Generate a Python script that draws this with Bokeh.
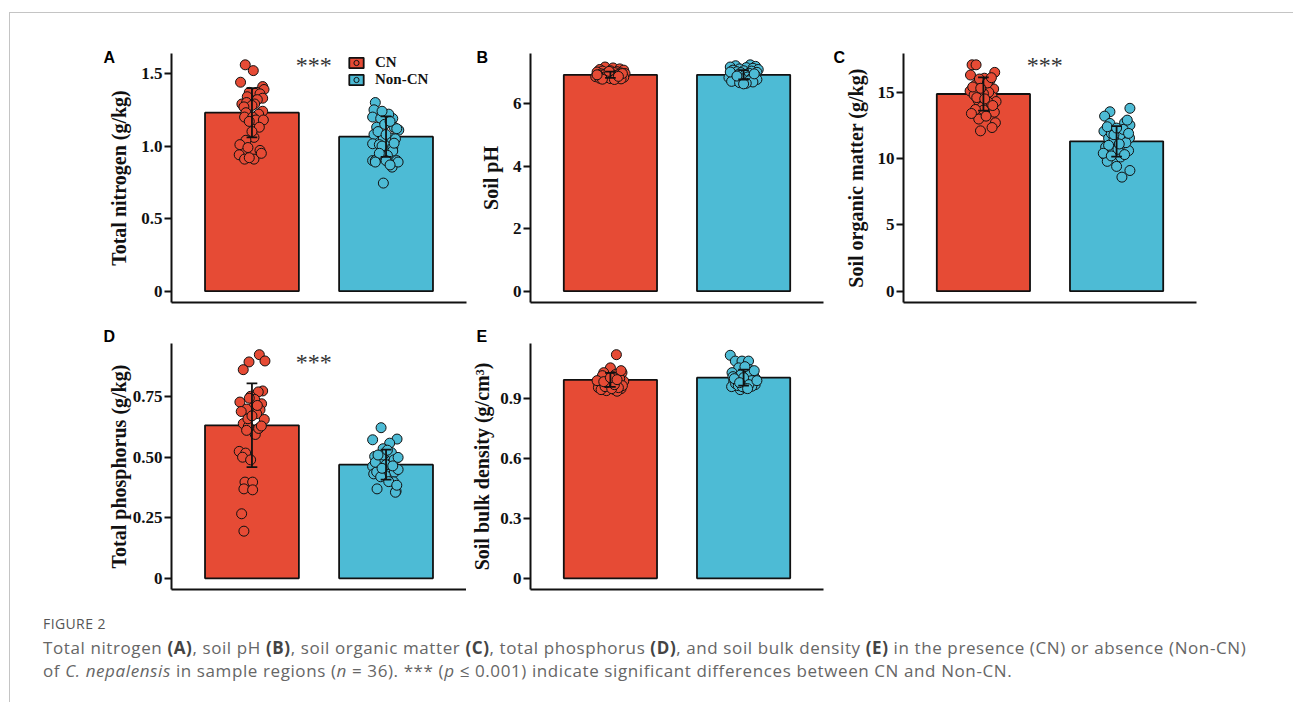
from bokeh.plotting import figure
from bokeh.models import Range1d, FixedTicker, Label, Legend, LegendItem, Div, Spacer
from bokeh.layouts import row, column
from bokeh.embed import file_html
from bokeh.resources import INLINE

RED = "#E64B35"
BLUE = "#4DBBD5"
groups = ["CN", "Non-CN"]

# ---------------- data ----------------
# A: total nitrogen (g/kg)
tn_mean = [1.23, 1.065]
tn_sd = [0.17, 0.14]
tn_cn = [1.56, 1.52, 1.44, 1.41, 1.39, 1.37, 1.37, 1.36, 1.34, 1.33, 1.32, 1.29,
         1.30, 1.29, 1.28, 1.27, 1.24, 1.23, 1.22, 1.20, 1.20, 1.18, 1.18, 1.17,
         1.13, 1.06, 1.04, 1.01, 0.97, 0.94, 0.99, 0.91, 0.91, 0.92, 0.95, 1.10]
tn_cn_jit = [-0.05, 0.01, -0.085, 0.08, 0.09, -0.02, 0.035, 0.06, -0.035, 0.08, 0.04, -0.075,
             -0.04, 0.02, 0.0, -0.06, 0.08, -0.045, 0.05, -0.055, 0.005, 0.03, 0.085, -0.02,
             0.055, 0.015, -0.045, -0.09, 0.06, -0.095, -0.03, -0.055, 0.015, -0.02, 0.07, 0.0]
tn_non = [1.30, 1.25, 1.20, 1.19, 1.19, 1.13, 1.15, 1.13, 1.11, 1.12, 1.08, 1.055,
          1.055, 1.016, 1.01, 0.99, 0.966, 0.936, 0.90, 0.90, 0.90, 0.90, 0.855, 0.745,
          1.22, 1.24, 1.17, 1.10, 1.05, 1.00, 0.89, 0.87, 0.95, 1.08, 1.02, 0.89]
tn_non_jit = [-0.08, -0.09, -0.1, -0.04, 0.05, -0.07, -0.01, 0.06, 0.095, 0.08, -0.09, -0.02,
              0.04, -0.1, -0.05, 0.05, 0.05, 0.01, -0.1, -0.08, 0.0, 0.08, 0.045, -0.02,
              0.02, -0.03, 0.03, -0.06, 0.07, -0.03, 0.09, 0.03, -0.05, 0.0, 0.06, -0.08]
tn_ticks = [0, 0.5, 1.0, 1.5]
tn_tick_labels = ["0", "0.5", "1.0", "1.5"]

# B: soil pH
ph_mean = [6.93, 6.93]
ph_sd = [0.10, 0.15]
ph_cn = [7.18, 7.15, 7.12, 7.10, 7.08, 7.06, 7.05, 7.03, 7.02, 7.00, 6.99, 6.98,
         6.97, 6.96, 6.95, 6.94, 6.93, 6.92, 6.91, 6.90, 6.89, 6.88, 6.87, 6.86,
         6.85, 6.84, 6.83, 6.82, 6.81, 6.80, 6.79, 6.78, 7.04, 6.97, 6.93, 6.88]
ph_cn_jit = [-0.04, 0.02, 0.07, -0.08, 0.1, 0.0, -0.06, 0.05, -0.1, 0.03, 0.08, -0.03,
             0.11, -0.07, 0.01, 0.06, -0.05, 0.09, -0.09, 0.04, -0.02, 0.07, -0.11, 0.02,
             0.1, -0.04, 0.05, -0.08, 0.0, 0.08, -0.06, 0.03, -0.01, 0.09, -0.1, 0.06]
ph_non = [7.25, 7.22, 7.20, 7.18, 7.16, 7.14, 7.12, 7.10, 7.08, 7.06, 7.05, 7.03,
          7.01, 7.00, 6.98, 6.97, 6.95, 6.93, 6.92, 6.90, 6.88, 6.86, 6.84, 6.82,
          6.80, 6.78, 6.76, 6.74, 6.72, 6.70, 6.68, 6.66, 6.64, 7.02, 6.96, 6.89]
ph_non_jit = [0.05, -0.06, 0.09, -0.1, 0.02, 0.07, -0.03, 0.11, -0.08, 0.0, 0.06, -0.05,
              0.1, -0.02, 0.04, -0.09, 0.08, -0.04, 0.01, 0.09, -0.07, 0.03, -0.11, 0.06,
              -0.01, 0.1, -0.06, 0.04, -0.09, 0.07, -0.03, 0.02, 0.0, -0.1, 0.08, -0.05]
ph_ticks = [0, 2, 4, 6]
ph_tick_labels = ["0", "2", "4", "6"]

# C: soil organic matter (g/kg)
som_mean = [14.87, 11.3]
som_sd = [1.25, 1.15]
som_cn = [17.07, 17.07, 16.3, 16.5, 16.06, 15.6, 15.5, 15.1, 15.25, 15.2, 14.8, 14.67,
          14.3, 14.3, 14.4, 13.9, 13.66, 13.5, 12.98, 13.2, 12.7, 12.34, 12.09, 13.7,
          15.9, 16.0, 15.0, 15.4, 14.9, 14.0, 14.6, 15.7, 13.4, 16.1, 15.3, 14.5]
som_cn_jit = [-0.085, -0.055, -0.097, 0.085, 0.007, -0.055, 0.027, -0.1, 0.077, -0.01, -0.07, 0.065,
              0.095, 0.032, -0.04, -0.01, 0.002, 0.082, -0.035, 0.02, 0.09, 0.065, -0.022, -0.06,
              0.05, -0.03, 0.04, -0.08, 0.0, 0.07, -0.05, 0.03, -0.09, 0.06, -0.02, 0.01]
som_non = [13.79, 13.53, 13.2, 12.65, 12.7, 12.52, 12.06, 12.01, 11.63, 11.56, 11.53, 11.4,
           10.87, 10.92, 10.6, 10.5, 10.3, 10.12, 9.79, 9.41, 9.1, 8.6, 12.2, 11.9,
           11.2, 11.0, 10.7, 10.4, 10.3, 11.8, 12.9, 12.4, 11.1, 10.2, 11.9, 12.3]
som_non_jit = [0.1, -0.05, -0.09, -0.05, 0.06, 0.1, -0.095, -0.025, 0.025, 0.097, -0.06, -0.02,
               -0.082, 0.03, 0.09, -0.03, -0.09, 0.03, -0.07, 0.0, 0.1, 0.04, 0.05, -0.04,
               0.07, -0.06, 0.01, -0.1, 0.06, -0.02, 0.08, -0.07, 0.02, -0.04, 0.09, 0.0]
som_ticks = [0, 5, 10, 15]
som_tick_labels = ["0", "5", "10", "15"]

# D: total phosphorus (g/kg)
tp_mean = [0.633, 0.47]
tp_sd = [0.173, 0.062]
tp_cn = [0.925, 0.895, 0.899, 0.863, 0.775, 0.771, 0.729, 0.753, 0.722, 0.708, 0.70, 0.697,
         0.681, 0.657, 0.64, 0.628, 0.595, 0.612, 0.525, 0.518, 0.501, 0.49, 0.398, 0.398,
         0.37, 0.366, 0.267, 0.195, 0.74, 0.66, 0.62, 0.69, 0.63, 0.672, 0.745, 0.715]
tp_cn_jit = [0.055, -0.022, 0.097, -0.065, 0.08, 0.047, -0.09, -0.01, 0.072, 0.01, -0.04, 0.06,
             0.035, 0.092, -0.065, -0.027, 0.025, -0.04, -0.095, -0.047, -0.07, -0.01, -0.052, 0.005,
             -0.06, 0.005, -0.077, -0.06, 0.02, -0.03, 0.05, -0.08, 0.07, 0.0, -0.02, 0.04]
tp_non = [0.623, 0.573, 0.576, 0.559, 0.536, 0.504, 0.499, 0.499, 0.481, 0.463, 0.463, 0.446,
          0.439, 0.432, 0.425, 0.399, 0.37, 0.36, 0.356, 0.47, 0.48, 0.45, 0.51, 0.52,
          0.44, 0.47, 0.49, 0.42, 0.40, 0.48, 0.50, 0.53, 0.455, 0.465, 0.51, 0.385]
tp_non_jit = [-0.037, -0.1, 0.082, 0.027, -0.022, -0.085, -0.005, 0.082, 0.052, -0.1, -0.037, 0.007,
              0.062, -0.092, -0.005, 0.057, -0.067, 0.075, 0.07, 0.03, -0.05, 0.09, -0.02, 0.04,
              -0.07, 0.0, 0.06, -0.04, 0.02, -0.08, 0.09, 0.01, -0.03, 0.05, -0.06, 0.08]
tp_ticks = [0, 0.25, 0.50, 0.75]
tp_tick_labels = ["0", "0.25", "0.50", "0.75"]

# E: soil bulk density (g/cm3)
bd_mean = [0.994, 1.005]
bd_sd = [0.035, 0.04]
bd_cn = [1.12, 1.054, 1.03, 1.03, 1.02, 1.004, 0.996, 0.979, 0.987, 0.987, 0.97, 0.962,
         0.955, 0.95, 0.945, 0.94, 0.937, 0.945, 1.01, 1.0, 1.0, 0.99, 0.975, 0.965,
         0.96, 0.98, 1.015, 0.955, 0.99, 0.95, 1.04, 0.98, 0.97, 0.985, 1.005, 0.995]
bd_cn_jit = [0.045, 0.0, -0.05, 0.087, 0.037, -0.045, 0.012, -0.092, 0.062, 0.1, -0.062, -0.012,
             -0.09, 0.08, 0.03, -0.03, 0.05, -0.07, 0.02, -0.02, 0.07, -0.08, 0.0, 0.09,
             -0.04, 0.04, -0.06, 0.06, -0.1, 0.01, 0.08, -0.03, 0.03, -0.05, 0.0, 0.05]
bd_non = [1.117, 1.088, 1.088, 1.088, 1.054, 1.046, 1.03, 1.02, 1.009, 0.996, 0.987, 0.979,
          0.97, 0.945, 0.962, 0.954, 0.96, 1.0, 0.99, 1.03, 1.02, 1.0, 0.975, 0.985,
          1.01, 0.99, 1.005, 0.965, 0.97, 0.96, 1.04, 1.0, 0.95, 0.99, 0.98, 1.06]
bd_non_jit = [-0.1, -0.062, -0.012, 0.037, -0.037, 0.042, -0.087, 0.074, -0.037, 0.074, -0.074, 0.0,
              0.087, -0.025, 0.062, 0.012, -0.09, 0.03, -0.05, 0.05, -0.02, 0.09, -0.06, 0.02,
              -0.08, 0.06, 0.0, -0.04, 0.04, -0.01, 0.08, -0.07, 0.03, 0.1, -0.03, 0.01]
bd_ticks = [0, 0.3, 0.6, 0.9]
bd_tick_labels = ["0", "0.3", "0.6", "0.9"]

SERIF = "Liberation Serif"
SANS = "Liberation Sans"
INK = "#111111"


def make_panel(frame_w, frame_h, mb_left, mb_right, mb_top, mb_bottom,
               means, sds, cn_vals, cn_jit, non_vals, non_jit,
               ticks, tick_labels, ylabel, letter, letter_dx, letter_standoff,
               title_standoff=8, star_y=None, legend=False):
    ymax = max(max(cn_vals), max(non_vals), means[0] + sds[0], means[1] + sds[1])
    p = figure(width=mb_left + frame_w + mb_right, height=mb_top + frame_h + mb_bottom,
               x_range=Range1d(0.4, 2.6), y_range=Range1d(-0.05 * ymax, 1.05 * ymax),
               output_backend="svg", toolbar_location=None,
               min_border_left=mb_left, min_border_right=mb_right,
               min_border_top=mb_top, min_border_bottom=mb_bottom)
    p.xgrid.visible = False
    p.ygrid.visible = False
    p.outline_line_color = None
    p.background_fill_color = "white"
    p.border_fill_color = "white"

    # panel letter
    p.title.text = letter
    p.title.align = "left"
    p.title.offset = letter_dx
    p.title.standoff = letter_standoff
    p.title.text_font = SANS
    p.title.text_font_style = "bold"
    p.title.text_font_size = "16px"
    p.title.text_color = "black"

    r_cn = p.vbar(x=[1], top=[means[0]], width=0.7, fill_color=RED,
                  line_color=INK, line_width=1.8)
    r_non = p.vbar(x=[2], top=[means[1]], width=0.7, fill_color=BLUE,
                   line_color=INK, line_width=1.8)
    s_cn = p.scatter(x=[1 + j for j in cn_jit], y=cn_vals, size=10, fill_color=RED,
                     line_color=INK, line_width=1)
    s_non = p.scatter(x=[2 + j for j in non_jit], y=non_vals, size=10, fill_color=BLUE,
                      line_color=INK, line_width=1)
    xs = [1, 2]
    lo = [m - s for m, s in zip(means, sds)]
    hi = [m + s for m, s in zip(means, sds)]
    p.segment(x0=xs, y0=lo, x1=xs, y1=hi, line_color=INK, line_width=1.8)
    cw = 0.04
    p.segment(x0=[x - cw for x in xs] * 2, y0=lo + hi, x1=[x + cw for x in xs] * 2, y1=lo + hi,
              line_color=INK, line_width=1.8)

    xa = p.xaxis[0]
    xa.ticker = FixedTicker(ticks=[])
    xa.major_label_text_font_size = "0px"
    xa.major_tick_line_color = None
    xa.minor_tick_line_color = None
    xa.axis_line_color = INK
    xa.axis_line_width = 2
    xa.major_label_standoff = 0

    ya = p.yaxis[0]
    ya.ticker = FixedTicker(ticks=ticks)
    ya.major_label_overrides = {t: l for t, l in zip(ticks, tick_labels)}
    ya.minor_tick_line_color = None
    ya.major_tick_in = 0
    ya.major_tick_out = 7
    ya.major_tick_line_width = 2
    ya.major_tick_line_color = INK
    ya.axis_line_color = INK
    ya.axis_line_width = 2
    ya.major_label_standoff = 2
    ya.major_label_text_font = SERIF
    ya.major_label_text_font_style = "bold"
    ya.major_label_text_font_size = "17px"
    ya.major_label_text_color = INK
    ya.axis_label = ylabel
    ya.axis_label_text_font = SERIF
    ya.axis_label_text_font_style = "bold"
    ya.axis_label_text_font_size = "20px"
    ya.axis_label_text_color = INK
    ya.axis_label_standoff = title_standoff

    if star_y is not None:
        p.add_layout(Label(x=1.46, y=star_y, text="***", text_font=SERIF,
                           text_font_size="24px", text_color="#333333",
                           text_align="center", text_baseline="middle"))
    if legend:
        lg = Legend(items=[LegendItem(label=groups[0], renderers=[r_cn, s_cn]),
                           LegendItem(label=groups[1], renderers=[r_non, s_non])],
                    location=(176, 214), orientation="vertical",
                    padding=0, margin=0, spacing=0,
                    glyph_width=18, glyph_height=13, label_height=13,
                    label_standoff=10,
                    label_text_font=SERIF, label_text_font_style="bold",
                    label_text_font_size="15px", label_text_color=INK,
                    background_fill_alpha=0, border_line_alpha=0)
        p.add_layout(lg)
    return p


pA = make_panel(295, 249, 161, 4, 40, 10, tn_mean, tn_sd, tn_cn, tn_cn_jit, tn_non, tn_non_jit,
                tn_ticks, tn_tick_labels, "Total nitrogen (g/kg)", "A", -68, -25,
                star_y=1.56, legend=True)
pB = make_panel(293, 249, 60, 7, 40, 10, ph_mean, ph_sd, ph_cn, ph_cn_jit, ph_non, ph_non_jit,
                ph_ticks, ph_tick_labels, "Soil pH", "B", -54, -25)
pC = make_panel(293, 249, 73, 10, 40, 10, som_mean, som_sd, som_cn, som_cn_jit, som_non, som_non_jit,
                som_ticks, som_tick_labels, "Soil organic matter (g/kg)", "C", -70, -25,
                star_y=17.07)
pD = make_panel(295, 246, 161, 0, 31, 10, tp_mean, tp_sd, tp_cn, tp_cn_jit, tp_non, tp_non_jit,
                tp_ticks, tp_tick_labels, "Total phosphorus (g/kg)", "D", -68, -3,
                title_standoff=0, star_y=0.895)
pE = make_panel(293, 246, 64, 7, 31, 10, bd_mean, bd_sd, bd_cn, bd_cn_jit, bd_non, bd_non_jit,
                bd_ticks, bd_tick_labels, "Soil bulk density (g/cm\u00b3)", "E", -54, -3,
                title_standoff=4)

caption_html = (
    "<div style=\"font-family:'Open Sans';color:#666666;white-space:nowrap;\">"
    "<div style=\"font-size:14px;line-height:18px;margin-top:16px;color:#555555;letter-spacing:0.4px;\">FIGURE 2</div>"
    "<div style=\"font-size:17px;line-height:23px;margin-top:3px;letter-spacing:0.6px;\">"
    "Total nitrogen <b style='color:#444'>(A)</b>, soil pH <b style='color:#444'>(B)</b>, "
    "soil organic matter <b style='color:#444'>(C)</b>, total phosphorus <b style='color:#444'>(D)</b>, "
    "and soil bulk density <b style='color:#444'>(E)</b> in the presence (CN) or absence (Non-CN)<br>"
    "of <i>C. nepalensis</i> in sample regions (<i>n</i> = 36). *** (<i>p</i> \u2264 0.001) "
    "indicate significant differences between CN and Non-CN."
    "</div></div>"
)
caption = Div(text=caption_html, width=1245, height=90, margin=0)

content = column(row(pA, pB, pC), row(pD, pE), row(Spacer(width=33, height=90), caption))

top_line = row(Spacer(width=9, height=1),
               Div(text="", width=1284, height=1, margin=0,
                   styles={"background-color": "#c4c4c4"}))
left_line = Div(text="", width=1, height=689, margin=0, styles={"background-color": "#c4c4c4"})
page = column(Spacer(width=1293, height=12), top_line,
              row(Spacer(width=9, height=689), left_line, content))

open("out.html", "w").write(file_html(page, INLINE))
